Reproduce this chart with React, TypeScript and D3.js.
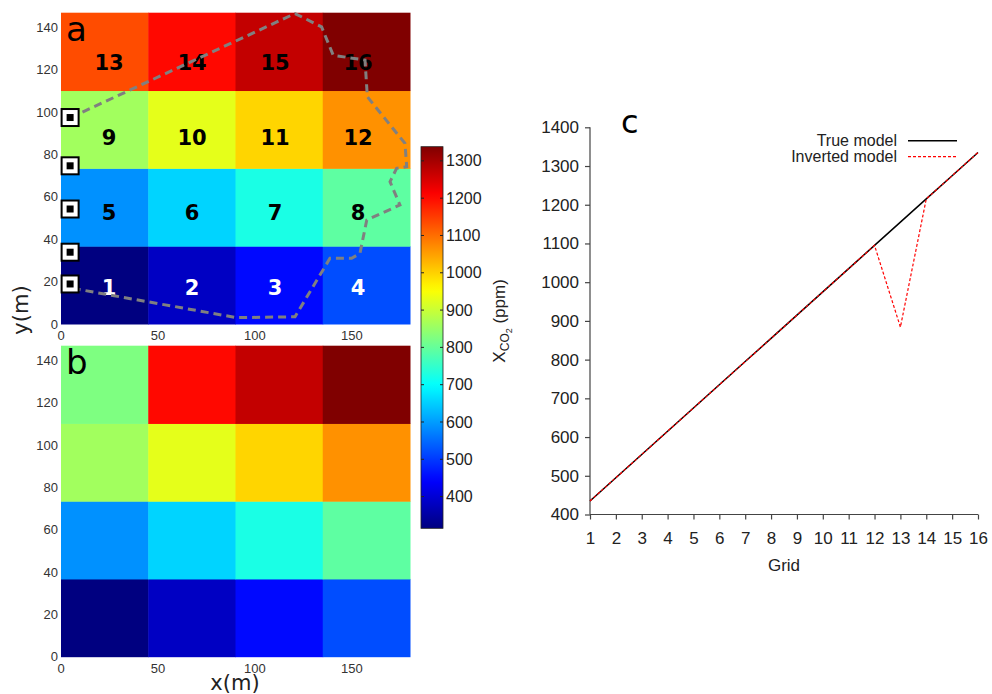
import React, { useRef, useEffect } from "react";
import * as d3 from "d3";

// grid cell ids 1..16 (row by row from the bottom left)
const cellIds = [1, 2, 3, 4, 5, 6, 7, 8, 9, 10, 11, 12, 13, 14, 15, 16];
const trueModel = [435, 495, 555, 615, 675, 735, 795, 855, 915, 975, 1035, 1095, 1155, 1215, 1275, 1335];
const invertedModel = [435, 495, 555, 615, 675, 735, 795, 855, 915, 975, 1035, 1095, 884, 1215, 1275, 1335];

const xEdges = [0, 45, 90, 135, 180];
const yEdges = [0, 36.75, 73.5, 110.25, 147];
const mapTicksX = [0, 50, 100, 150];
const mapTicksY = [0, 20, 40, 60, 80, 100, 120, 140];
const colorbarTicks = [400, 500, 600, 700, 800, 900, 1000, 1100, 1200, 1300];
const co2Ticks = [400, 500, 600, 700, 800, 900, 1000, 1100, 1200, 1300, 1400];

// monitoring wells (m)
const wellX = [4.7, 4.7, 4.7, 4.7, 4.7];
const wellY = [97.5, 74.7, 54.3, 33.9, 18.9];

// outline of the plume (m)
const plumeX = [5, 120.7, 134.4, 140.4, 156.8, 158, 177.4, 178.3, 173.1, 169.7, 174.8, 157.7, 154.2, 149.9, 138.7, 120.7, 90.6, 5];
const plumeY = [97.5, 146.6, 140.3, 126.9, 124.6, 107.3, 85.3, 74.3, 73.5, 67.2, 56.2, 49.1, 33.4, 31, 31, 3.4, 3, 17];

const jet = (t: number) => {
  const c = (v: number) => Math.round(255 * Math.max(0, Math.min(1, v)));
  const r = 1.5 - Math.abs(4 * t - 3);
  const g = 1.5 - Math.abs(4 * t - 2);
  const b = 1.5 - Math.abs(4 * t - 1);
  return `rgb(${c(r)},${c(g)},${c(b)})`;
};

const App = () => {
  const svgRef = useRef<SVGSVGElement>(null);

  useEffect(() => {
    const svg = d3.select(svgRef.current);
    svg.selectAll("*").remove();

    const tickFont = "'Liberation Sans', Arial, sans-serif";
    const bigFont = "'DejaVu Sans', sans-serif";

    const color = d3.scaleSequential(jet).domain([435, 1335]);
    const x = d3.scaleLinear().domain([0, 180]).range([61, 410]);
    // nudge for the cell number labels
    const labelX = d3.scaleLinear().domain([0, 3]).range([24.8, 153.2]);
    const labelY = d3.scaleLinear().domain([0, 3]).range([17.3, 123.6]);

    const drawMap = (values: number[], y: d3.ScaleLinear<number, number>, letter: string, withPlume: boolean) => {
      const g = svg.append("g");
      g.selectAll("rect.cell")
        .data(values)
        .enter()
        .append("rect")
        .attr("class", "cell")
        .attr("x", (d, i) => x(xEdges[i % 4]))
        .attr("y", (d, i) => y(yEdges[Math.floor(i / 4) + 1]))
        .attr("width", (d, i) => x(xEdges[i % 4 + 1]) - x(xEdges[i % 4]) + 0.5)
        .attr("height", (d, i) => y(yEdges[Math.floor(i / 4)]) - y(yEdges[Math.floor(i / 4) + 1]) + 0.5)
        .attr("fill", d => color(d));

      g.selectAll("text.ytick")
        .data(mapTicksY)
        .enter()
        .append("text")
        .attr("x", x(0) - 3)
        .attr("y", d => y(d))
        .attr("dy", "0.35em")
        .attr("text-anchor", "end")
        .style("font-family", tickFont)
        .style("font-size", "13px")
        .attr("fill", "#333")
        .text(d => d);

      g.selectAll("text.xtick")
        .data(mapTicksX)
        .enter()
        .append("text")
        .attr("x", d => x(d))
        .attr("y", y(0) + 16)
        .attr("text-anchor", "middle")
        .style("font-family", tickFont)
        .style("font-size", "13px")
        .attr("fill", "#333")
        .text(d => d);

      g.append("text")
        .attr("x", x(0) + 5)
        .attr("y", y(147) + 28)
        .style("font-family", bigFont)
        .style("font-size", "34px")
        .text(letter);

      if (!withPlume) return;

      g.selectAll("text.num")
        .data(cellIds)
        .enter()
        .append("text")
        .attr("x", (d, i) => x(labelX(i % 4)))
        .attr("y", (d, i) => y(labelY(Math.floor(i / 4))))
        .attr("dy", "0.36em")
        .attr("text-anchor", "middle")
        .style("font-family", bigFont)
        .style("font-size", "21px")
        .style("font-weight", "bold")
        .attr("fill", (d, i) => (i < 4 ? "#fff" : "#000"))
        .text(d => d);

      const line = d3.line<number>()
        .x((d, i) => x(plumeX[i]))
        .y((d, i) => y(plumeY[i]));
      g.append("path")
        .attr("d", line(plumeX))
        .attr("fill", "none")
        .attr("stroke", "#808080")
        .attr("stroke-width", 3)
        .attr("stroke-dasharray", "8,5");

      const wells = g.selectAll("g.well")
        .data(wellY)
        .enter()
        .append("g")
        .attr("transform", (d, i) => `translate(${x(wellX[i])},${y(d)})`);
      wells.append("rect")
        .attr("x", -8.5).attr("y", -8.5).attr("width", 17).attr("height", 17)
        .attr("fill", "#fff").attr("stroke", "#000").attr("stroke-width", 2);
      wells.append("rect")
        .attr("x", -3.5).attr("y", -3.5).attr("width", 7).attr("height", 7)
        .attr("fill", "#000");
    };

    drawMap(trueModel, d3.scaleLinear().domain([0, 147]).range([324, 12.7]), "a", true);
    drawMap(invertedModel, d3.scaleLinear().domain([0, 147]).range([656.7, 345.7]), "b", false);

    svg.append("text")
      .attr("transform", `translate(21,310) rotate(-90)`)
      .attr("text-anchor", "middle")
      .attr("dy", "0.35em")
      .style("font-family", bigFont)
      .style("font-size", "21px")
      .attr("fill", "#222")
      .text("y(m)");
    svg.append("text")
      .attr("x", 235)
      .attr("y", 690)
      .attr("text-anchor", "middle")
      .style("font-family", bigFont)
      .style("font-size", "21px")
      .attr("fill", "#222")
      .text("x(m)");

    // colorbar
    const cb = d3.scaleLinear().domain([315, 1338]).range([528.3, 146.7]);
    const defs = svg.append("defs");
    const grad = defs.append("linearGradient")
      .attr("id", "jetbar")
      .attr("x1", 0).attr("y1", 1).attr("x2", 0).attr("y2", 0);
    grad.selectAll("stop")
      .data(d3.range(0, 1.0001, 0.02))
      .enter()
      .append("stop")
      .attr("offset", d => d)
      .attr("stop-color", d => jet(d));
    svg.append("rect")
      .attr("x", 421)
      .attr("y", cb(1338))
      .attr("width", 22)
      .attr("height", cb(315) - cb(1338))
      .attr("fill", "url(#jetbar)")
      .attr("stroke", "#222")
      .attr("stroke-width", 0.8);
    const cbt = svg.selectAll("g.cbt")
      .data(colorbarTicks)
      .enter()
      .append("g")
      .attr("transform", d => `translate(0,${cb(d)})`);
    cbt.append("line").attr("x1", 421).attr("x2", 424).attr("stroke", "#222");
    cbt.append("line").attr("x1", 440).attr("x2", 443).attr("stroke", "#222");
    cbt.append("text")
      .attr("x", 446)
      .attr("dy", "0.35em")
      .style("font-family", tickFont)
      .style("font-size", "16px")
      .attr("fill", "#222")
      .text(d => d);

    // panel c
    const gx = d3.scaleLinear().domain([1, 16]).range([590, 978]);
    const gy = d3.scaleLinear().domain([400, 1400]).range([514.5, 127.3]);
    const c = svg.append("g");

    const xAxis = c.append("g")
      .attr("transform", `translate(0,${gy(400)})`)
      .call(d3.axisBottom(gx).tickValues(cellIds).tickSize(5).tickPadding(12).tickFormat(d3.format("d")));
    const yAxis = c.append("g")
      .attr("transform", `translate(${gx(1)},0)`)
      .call(d3.axisLeft(gy).tickValues(co2Ticks).tickSize(5).tickPadding(6).tickFormat(d3.format("d")));
    [xAxis, yAxis].forEach(a => {
      a.select(".domain").attr("stroke", "#444").attr("stroke-width", 1.2);
      a.selectAll(".tick line").attr("stroke", "#444").attr("stroke-width", 1.2);
      a.selectAll("text").style("font-family", tickFont).style("font-size", "17px").attr("fill", "#222");
    });
    xAxis.select(".domain").attr("d", `M${gx(1)},0H${gx(16)}`);
    yAxis.select(".domain").attr("d", `M0,${gy(400)}V${gy(1400)}`);

    const series = d3.line<number>()
      .x((d, i) => gx(cellIds[i]))
      .y(d => gy(d));
    c.append("path")
      .attr("d", series(trueModel))
      .attr("fill", "none")
      .attr("stroke", "#000")
      .attr("stroke-width", 1.5);
    c.append("path")
      .attr("d", series(invertedModel))
      .attr("fill", "none")
      .attr("stroke", "#ff0000")
      .attr("stroke-width", 1.2)
      .attr("stroke-dasharray", "3,2");

    const legend = [
      { label: "True model", stroke: "#000", dash: null, width: 1.5 },
      { label: "Inverted model", stroke: "#ff0000", dash: "3,2", width: 1.2 }
    ];
    const lg = c.selectAll("g.legend")
      .data(legend)
      .enter()
      .append("g")
      .attr("transform", (d, i) => `translate(0,${140.7 + i * 16})`);
    lg.append("text")
      .attr("x", 897)
      .attr("dy", "0.35em")
      .attr("text-anchor", "end")
      .style("font-family", tickFont)
      .style("font-size", "16px")
      .attr("fill", "#222")
      .text(d => d.label);
    lg.append("line")
      .attr("x1", 908).attr("x2", 957)
      .attr("stroke", d => d.stroke)
      .attr("stroke-width", d => d.width)
      .attr("stroke-dasharray", d => d.dash);

    c.append("text")
      .attr("x", 621)
      .attr("y", 133)
      .style("font-family", bigFont)
      .style("font-size", "32px")
      .text("c");

    c.append("text")
      .attr("x", gx(8.5))
      .attr("y", 571)
      .attr("text-anchor", "middle")
      .style("font-family", tickFont)
      .style("font-size", "17px")
      .attr("fill", "#222")
      .text("Grid");

    const yl = c.append("text")
      .attr("transform", `translate(505,${gy(900)}) rotate(-90)`)
      .attr("text-anchor", "middle")
      .style("font-family", tickFont)
      .style("font-size", "17px")
      .attr("fill", "#222");
    yl.append("tspan").text("X");
    yl.append("tspan").attr("dy", 4).style("font-size", "12px").text("CO");
    yl.append("tspan").attr("dy", 3).style("font-size", "9px").text("2");
    yl.append("tspan").attr("dy", -7).text(" (ppm)");
  }, []);

  return (
    <svg
      ref={svgRef}
      width={992}
      height={694}
      style={{ position: "absolute", left: 0, top: 0, background: "#fff" }}
    />
  );
};

export default App;
